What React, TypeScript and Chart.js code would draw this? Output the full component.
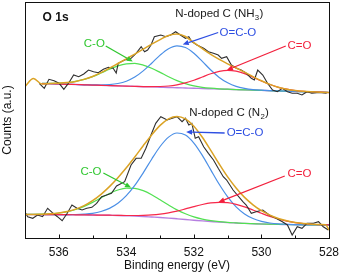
import React, { useEffect, useRef } from 'react';
import { Chart, registerables } from 'chart.js';

Chart.register(...registerables);

// Binding energy grid (eV) for the fitted curves
const ENERGY = [537, 536.75, 536.5, 536.25, 536, 535.75, 535.5, 535.25, 535, 534.75, 534.5, 534.25, 534, 533.75, 533.5, 533.25, 533, 532.75, 532.5, 532.25, 532, 531.75, 531.5, 531.25, 531, 530.75, 530.5, 530.25, 530, 529.75, 529.5, 529.25, 529, 528.75, 528.5, 528.25, 528];

// ---- N-doped C (NH3) : upper spectrum ----
const topBackground = [null, null, 154.5, 154.3, 154.0, 153.7, 153.5, 153.2, 152.9, 152.7, 152.4, 152.1, 151.9, 151.6, 151.3, 151.1, 150.8, 150.5, 150.3, 150.0, 149.7, 149.5, 149.2, 148.9, 148.7, 148.4, 148.1, 147.9, 147.6, 147.3, 147.1, 146.8, 146.5, 146.3, 146.0, 145.7, 145.5];
const topCO = [null, null, 154.7, 154.6, 154.8, 155.4, 156.6, 158.6, 161.4, 165.0, 168.8, 172.1, 174.2, 174.6, 172.9, 169.7, 165.6, 161.3, 157.4, 154.4, 152.2, 150.7, 149.8, 149.2, 148.8, 148.4, 148.1, 147.9, 147.6, 147.3, 147.1, 146.8, 146.5, 146.3, 146.0, 145.7, 145.5];
const topOCO = [null, null, 154.5, 154.3, 154.0, 153.7, 153.5, 153.2, 153.1, 153.0, 153.4, 154.5, 156.8, 160.9, 167.1, 174.8, 182.9, 189.3, 192.2, 190.5, 184.8, 176.6, 168.0, 160.6, 155.2, 151.6, 149.6, 148.4, 147.8, 147.4, 147.1, 146.8, 146.5, 146.3, 146.0, 145.7, 145.5];
const topCdO = [null, null, 154.5, 154.3, 154.0, 153.7, 153.5, 153.2, 152.9, 152.7, 152.4, 152.1, 151.9, 151.6, 151.4, 151.4, 151.5, 152.0, 153.2, 155.1, 157.8, 161.0, 164.2, 166.6, 167.6, 166.8, 164.4, 160.8, 157.0, 153.5, 150.7, 148.8, 147.5, 146.7, 146.2, 145.8, 145.5];
const topEnvelope = [151.5, 159.5, 154.0, 154.6, 154.8, 155.4, 156.6, 158.6, 161.5, 165.3, 169.8, 174.5, 179.2, 183.9, 188.8, 193.8, 198.4, 202.5, 204.0, 201.5, 195.3, 189.4, 183.6, 178.6, 174.2, 170.0, 165.8, 161.4, 157.2, 153.6, 150.7, 148.8, 147.5, 146.7, 146.2, 145.8, 145.5];
const topRawEnergy = [536.58, 536.43, 536.29, 536.14, 535.99, 535.85, 535.7, 535.56, 535.41, 535.26, 535.12, 534.97, 534.83, 534.68, 534.53, 534.39, 534.3, 534.24, 534.05, 533.86, 533.71, 533.56, 533.46, 533.37, 533.27, 533.17, 532.98, 532.83, 532.69, 532.54, 532.4, 532.25, 532.15, 532.06, 531.91, 531.71, 531.57, 531.42, 531.28, 531.18, 531.03, 530.89, 530.74, 530.6, 530.45, 530.3, 530.21, 530.11, 529.96, 529.82, 529.67, 529.53, 529.38, 529.23, 529.09, 528.94, 528.8, 528.65, 528.51, 528.36, 528.21, 528.07];
const topRawCounts = [154.7, 149.7, 158.7, 157.3, 154.7, 148.7, 155.3, 163, 161.3, 164, 168, 166.3, 165.3, 168.7, 170.7, 169.7, 165, 174.7, 178, 179.7, 184.7, 191.3, 186.3, 188, 193, 201.3, 203, 201.3, 203, 206.3, 203, 199.7, 201.3, 196.3, 193, 189.7, 186.3, 184.7, 183, 179.7, 181.3, 173, 169.7, 168, 164.7, 159.7, 158, 168, 163, 154.7, 148, 146.3, 149.7, 146.3, 144.7, 144.7, 143, 146.3, 144.7, 145.3, 145.3, 144.7];

// ---- N-doped C (N2) : lower spectrum ----
const botBackground = [23.5, 23.5, 23.4, 23.4, 23.3, 23.3, 23.2, 23.1, 23.0, 22.9, 22.7, 22.5, 22.2, 21.9, 21.5, 21.0, 20.5, 19.9, 19.2, 18.5, 17.8, 17.1, 16.5, 15.9, 15.4, 15.0, 14.6, 14.3, 14.0, 13.8, 13.6, 13.5, 13.3, 13.2, 13.1, 13.1, 13.0];
const botCO = [23.5, 23.6, 23.8, 24.2, 25.0, 26.3, 28.5, 31.6, 35.6, 40.1, 44.5, 48.0, 49.9, 49.7, 47.4, 43.3, 38.2, 33.0, 28.1, 24.2, 21.1, 18.9, 17.4, 16.3, 15.6, 15.1, 14.6, 14.3, 14.0, 13.8, 13.6, 13.5, 13.3, 13.2, 13.1, 13.1, 13.0];
const botOCO = [23.5, 23.5, 23.4, 23.4, 23.4, 23.4, 23.5, 23.9, 24.7, 26.5, 29.6, 34.7, 42.3, 52.6, 65.2, 78.8, 91.5, 100.9, 105.0, 102.9, 94.9, 82.6, 68.1, 53.7, 41.1, 31.2, 24.1, 19.5, 16.6, 15.0, 14.1, 13.7, 13.4, 13.2, 13.1, 13.1, 13.0];
const botCdO = [23.5, 23.5, 23.4, 23.4, 23.3, 23.3, 23.2, 23.1, 23.0, 22.9, 22.8, 22.7, 22.5, 22.5, 22.7, 23.1, 23.9, 25.2, 26.9, 29.1, 31.4, 33.5, 35.1, 35.7, 35.3, 33.7, 31.1, 28.0, 24.7, 21.6, 19.0, 16.9, 15.4, 14.4, 13.75, 13.4, 13.15];
const botEnvelopeEnergy = [537, 536.75, 536.5, 536.25, 536, 535.75, 535.5, 535.25, 535, 534.75, 534.5, 534.25, 534, 533.75, 533.5, 533.25, 533, 532.75, 532.5, 532.25, 532, 531.75, 531.5, 531.25, 531, 530.75, 530.5, 530.25, 530, 529.75, 529.5, 529.25, 529, 528.75, 528.5, 528.25, 528.1, 528];
const botEnvelope = [23.5, 23.6, 23.8, 24.2, 25.0, 26.5, 28.9, 32.4, 37.3, 43.7, 51.4, 60.3, 70.2, 81.0, 92.3, 103.1, 112.6, 119.2, 121.6, 119.1, 111.8, 100.7, 87.6, 74.0, 61.1, 50.0, 40.6, 33.2, 27.3, 22.9, 19.5, 17.2, 15.5, 14.4, 13.75, 13.4, 13.2, 8];
const botRawEnergy = [537.0, 536.92, 536.77, 536.63, 536.48, 536.33, 536.19, 536.04, 535.9, 535.75, 535.61, 535.46, 535.31, 535.17, 535.02, 534.88, 534.73, 534.58, 534.44, 534.29, 534.05, 533.86, 533.71, 533.56, 533.42, 533.27, 533.13, 532.98, 532.79, 532.64, 532.5, 532.35, 532.25, 532.15, 532.06, 531.96, 531.86, 531.71, 531.57, 531.42, 531.28, 531.13, 531.03, 530.84, 530.55, 530.45, 530.3, 530.16, 529.96, 529.77, 529.57, 529.38, 529.23, 529.09, 528.94, 528.8, 528.65, 528.46, 528.31, 528.17, 528.02];
const botRawCounts = [26, 21.3, 19.7, 23, 21.3, 29.7, 25.3, 21.3, 17.3, 24.7, 33, 29.7, 28, 29.7, 30.7, 34.7, 41.3, 43, 44.7, 52, 56.3, 73, 79.7, 79.7, 89.7, 103, 114.7, 121.3, 118, 119.7, 121.3, 116.3, 119.7, 113, 114.7, 99.7, 101.3, 91.3, 84.7, 78, 69.7, 61.3, 58, 48, 36.3, 33, 24.7, 26.3, 28, 23, 19.7, 16.3, 13, 3, 11.3, 9.7, 14.7, 14.7, 16.3, 11.3, 8];

// Axis
const X_MIN = 528;
const X_MAX = 537;
const Y_MIN = 0;
const Y_MAX = 236;

// Colours
const C_RAW = '#2e2e2e';
const C_ENV = '#dba325';
const C_GREEN = '#52e052';
const C_BLUE = '#4b8fe6';
const C_RED = '#f7284a';
const C_PURPLE = '#b67fe0';
const A_GREEN = '#2fc72f';
const A_BLUE = '#2e4fe2';
const A_RED = '#f2203c';

const FONT = "'Liberation Sans', Arial, Helvetica, sans-serif";

// Annotations (in data coordinates)
const TEXT_LABELS = [
  { text: 'O 1s', x: 536.48, y: 220, color: '#111111', bold: true, size: 12 },
  { text: 'N-doped C (NH', sub: '3', tail: ')', x: 532.55, y: 224, color: '#1a1a1a', size: 11.5 },
  { text: 'C-O', x: 535.26, y: 194, color: A_GREEN, size: 11.5 },
  { text: 'O=C-O', x: 531.24, y: 205.5, color: A_BLUE, size: 11.5 },
  { text: 'C=O', x: 529.23, y: 192.5, color: A_RED, size: 11.5 },
  { text: 'N-doped C (N', sub: '2', tail: ')', x: 532.14, y: 125, color: '#1a1a1a', size: 11.5 },
  { text: 'O=C-O', x: 531.03, y: 105, color: A_BLUE, size: 11.5 },
  { text: 'C=O', x: 529.23, y: 64, color: A_RED, size: 11.5 },
  { text: 'C-O', x: 535.36, y: 66.5, color: A_GREEN, size: 11.5 },
];
const ARROWS = [
  { x1: 534.61, y1: 192, x2: 533.81, y2: 176.5, color: A_GREEN },
  { x1: 531.28, y1: 205.5, x2: 532.33, y2: 193.5, color: A_BLUE },
  { x1: 529.28, y1: 192, x2: 531.02, y2: 168, color: A_RED },
  { x1: 531.09, y1: 105, x2: 532.23, y2: 106, color: A_BLUE },
  { x1: 529.31, y1: 62, x2: 531.27, y2: 36, color: A_RED },
  { x1: 534.68, y1: 65, x2: 533.86, y2: 50.5, color: A_GREEN },
];

function pts(xs: number[], ys: (number | null)[]) {
  return xs.map((x, i) => ({ x, y: ys[i] }));
}

function line(label: string, data: any[], color: string, width: number, smooth: boolean) {
  return {
    label,
    data,
    borderColor: color,
    backgroundColor: color,
    borderWidth: width,
    pointRadius: 0,
    fill: false,
    spanGaps: false,
    cubicInterpolationMode: smooth ? 'monotone' : 'default',
    tension: 0,
  };
}

const decorPlugin = {
  id: 'decor',
  afterDatasetsDraw(chart: any) {
    const { ctx, chartArea, scales } = chart;
    const xs = scales.x;
    const ys = scales.y;
    ctx.save();
    // arrows
    ARROWS.forEach((a) => {
      const x1 = xs.getPixelForValue(a.x1);
      const y1 = ys.getPixelForValue(a.y1);
      const x2 = xs.getPixelForValue(a.x2);
      const y2 = ys.getPixelForValue(a.y2);
      const ang = Math.atan2(y2 - y1, x2 - x1);
      const hl = 6;
      const hw = 2.6;
      const bx = x2 - hl * Math.cos(ang);
      const by = y2 - hl * Math.sin(ang);
      ctx.strokeStyle = a.color;
      ctx.fillStyle = a.color;
      ctx.lineWidth = 1.3;
      ctx.beginPath();
      ctx.moveTo(x1, y1);
      ctx.lineTo(bx, by);
      ctx.stroke();
      ctx.beginPath();
      ctx.moveTo(x2, y2);
      ctx.lineTo(bx + hw * Math.sin(ang), by - hw * Math.cos(ang));
      ctx.lineTo(bx - hw * Math.sin(ang), by + hw * Math.cos(ang));
      ctx.closePath();
      ctx.fill();
    });
    // labels
    ctx.textBaseline = 'middle';
    ctx.textAlign = 'left';
    TEXT_LABELS.forEach((l: any) => {
      const px = xs.getPixelForValue(l.x);
      const py = ys.getPixelForValue(l.y);
      ctx.fillStyle = l.color;
      ctx.font = `${l.bold ? 'bold ' : ''}${l.size}px ${FONT}`;
      ctx.fillText(l.text, px, py);
      if (l.sub) {
        let cx = px + ctx.measureText(l.text).width;
        ctx.font = `${l.size * 0.68}px ${FONT}`;
        ctx.fillText(l.sub, cx + 0.3, py + 3.5);
        cx += ctx.measureText(l.sub).width + 0.6;
        ctx.font = `${l.size}px ${FONT}`;
        ctx.fillText(l.tail, cx, py);
      }
    });
    // frame
    ctx.strokeStyle = '#111111';
    ctx.lineWidth = 1;
    const L = Math.round(chartArea.left) + 0.5;
    const T = Math.round(chartArea.top) + 0.5;
    const R = Math.round(chartArea.right) + 0.5;
    const B = Math.round(chartArea.bottom) + 0.5;
    ctx.strokeRect(L, T, R - L, B - T);
    // inward ticks on the energy axis
    xs.ticks.forEach((t: any) => {
      const x = Math.round(xs.getPixelForValue(t.value)) + 0.5;
      const len = Math.round(t.value) % 2 === 0 ? 4 : 3;
      ctx.beginPath();
      ctx.moveTo(x, B);
      ctx.lineTo(x, B - len);
      ctx.stroke();
    });
    ctx.restore();
  },
};

export default function App() {
  const ref = useRef<HTMLCanvasElement | null>(null);

  useEffect(() => {
    document.body.style.margin = '0';
    if (!ref.current) return;
    const datasets = [
      line('Envelope NH3', pts(ENERGY, topEnvelope), C_ENV, 1.5, true),
      line('Envelope N2', pts(botEnvelopeEnergy, botEnvelope), C_ENV, 1.5, true),
      line('Raw NH3', pts(topRawEnergy, topRawCounts), C_RAW, 1.1, false),
      line('Raw N2', pts(botRawEnergy, botRawCounts), C_RAW, 1.1, false),
      line('C=O NH3', pts(ENERGY, topCdO), C_RED, 1.2, true),
      line('C=O N2', pts(ENERGY, botCdO), C_RED, 1.2, true),
      line('O=C-O NH3', pts(ENERGY, topOCO), C_BLUE, 1.2, true),
      line('O=C-O N2', pts(ENERGY, botOCO), C_BLUE, 1.2, true),
      line('C-O NH3', pts(ENERGY, topCO), C_GREEN, 1.2, true),
      line('C-O N2', pts(ENERGY, botCO), C_GREEN, 1.2, true),
      line('Background NH3', pts(ENERGY, topBackground), C_PURPLE, 1.4, true),
      line('Background N2', pts(ENERGY, botBackground), C_PURPLE, 1.4, true),
    ];
    const chart = new Chart(ref.current, {
      type: 'line',
      data: { datasets } as any,
      options: {
        animation: false,
        responsive: false,
        devicePixelRatio: 1,
        parsing: true,
        layout: { padding: { top: 2, right: 12, bottom: 0, left: 0 } },
        plugins: {
          legend: { display: false },
          tooltip: { enabled: false },
        },
        scales: {
          x: {
            type: 'linear',
            reverse: true,
            min: X_MIN,
            max: X_MAX,
            grid: { display: false, drawTicks: false },
            border: { display: false },
            ticks: {
              stepSize: 1,
              autoSkip: false,
              maxRotation: 0,
              padding: 7,
              color: '#111111',
              font: { family: FONT, size: 12 },
              callback: (v: any) => (Math.round(v) % 2 === 0 ? String(v) : ''),
            },
            title: {
              display: true,
              text: 'Binding energy (eV)',
              color: '#111111',
              font: { family: FONT, size: 12 },
              padding: { top: 0, bottom: 3 },
            },
            afterFit: (s: any) => {
              s.height = 38;
            },
          },
          y: {
            type: 'linear',
            min: Y_MIN,
            max: Y_MAX,
            grid: { display: false, drawTicks: false },
            border: { display: false },
            ticks: { display: false },
            title: {
              display: true,
              text: 'Counts (a.u.)',
              color: '#111111',
              font: { family: FONT, size: 12 },
              padding: { top: 0, bottom: 0 },
            },
            afterFit: (s: any) => {
              s.width = 25;
            },
          },
        },
      } as any,
      plugins: [decorPlugin],
    });
    return () => chart.destroy();
  }, []);

  return (
    <div style={{ position: 'fixed', left: 0, top: 0, width: 346, height: 276, background: '#ffffff' }}>
      <canvas ref={ref} width={346} height={276} style={{ width: 346, height: 276 }} />
    </div>
  );
}
